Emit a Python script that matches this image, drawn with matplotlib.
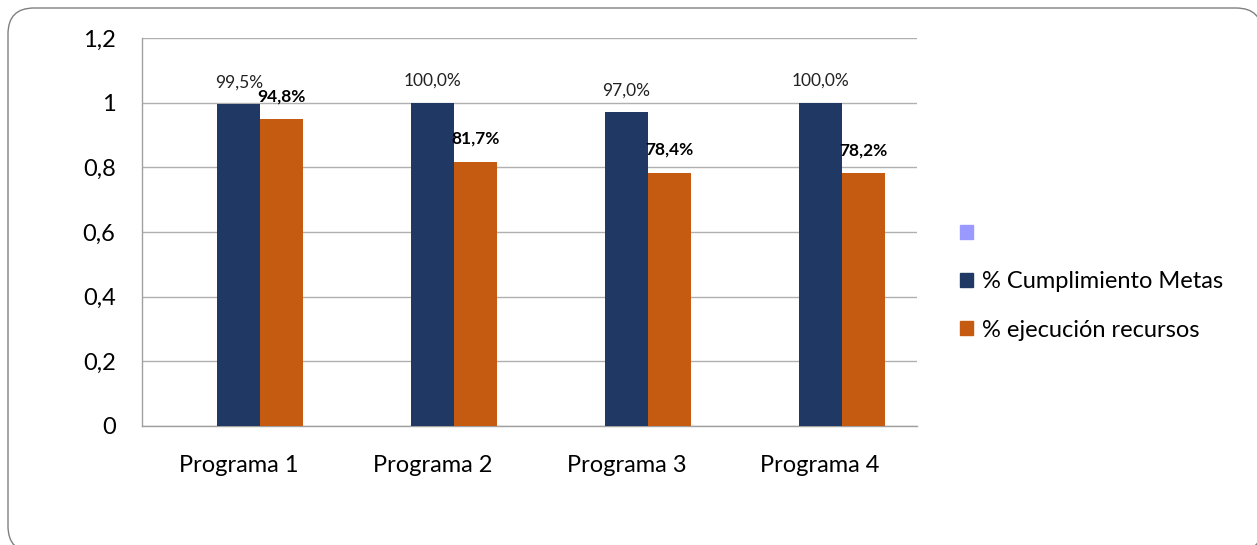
import numpy as np
import matplotlib
matplotlib.use("Agg")
import matplotlib.pyplot as plt
from matplotlib.patches import FancyBboxPatch, Patch

programas = ["Programa 1", "Programa 2", "Programa 3", "Programa 4"]
cumplimiento = [0.995, 1.0, 0.97, 1.0]
ejecucion = [0.948, 0.817, 0.784, 0.782]
cumpl_labels = ["99,5%", "100,0%", "97,0%", "100,0%"]
ejec_labels = ["94,8%", "81,7%", "78,4%", "78,2%"]
yticks = [0, 0.2, 0.4, 0.6, 0.8, 1.0, 1.2]
ytick_labels = ["0", "0,2", "0,4", "0,6", "0,8", "1", "1,2"]

plt.rcParams['font.family'] = ['Lato', 'DejaVu Sans']

W, H = 1257, 545
fig = plt.figure(figsize=(W / 100, H / 100), dpi=100)

# background axes in pixel units for the rounded frame
bg = fig.add_axes([0, 0, 1, 1])
bg.set_xlim(0, W)
bg.set_ylim(H, 0)
bg.axis("off")
frame = FancyBboxPatch((8, 8), 1262 - 8, 552 - 8,
                       boxstyle="round,pad=0,rounding_size=26",
                       facecolor="white", edgecolor="#808080", linewidth=1.0,
                       clip_on=False)
bg.add_patch(frame)

ax = fig.add_axes([142 / W, 1 - 426 / H, 775 / W, 388 / H])
ax.set_facecolor("none")

x = np.arange(len(programas))
w = 0.222
navy = "#203864"
orange = "#C55A11"
ax.bar(x, cumplimiento, w, color=navy, zorder=3)
ax.bar(x + w, ejecucion, w, color=orange, zorder=3)

for i in range(len(programas)):
    ax.annotate(cumpl_labels[i], (x[i], cumplimiento[i]), xytext=(0, 22),
                textcoords="offset pixels", ha="center", va="center",
                fontsize=12.5, color="#222222")
    ax.annotate(ejec_labels[i], (x[i] + w, ejecucion[i]), xytext=(0, 23),
                textcoords="offset pixels", ha="center", va="center",
                fontsize=12.5, fontweight="bold", color="black")

ax.set_xlim(-0.5, 3.5)
ax.set_ylim(0, 1.2)
ax.set_yticks(yticks)
ax.set_yticklabels(ytick_labels, fontsize=17)
ax.set_xticks(x)
ax.set_xticklabels(programas, fontsize=17)
ax.tick_params(axis="both", length=0)
ax.tick_params(axis="y", pad=19)
ax.tick_params(axis="x", pad=21)
ax.yaxis.grid(True, color="#b0b0b0", linewidth=1.0, zorder=0)
for s in ["top", "right"]:
    ax.spines[s].set_visible(False)
for s in ["left", "bottom"]:
    ax.spines[s].set_color("#a0a0a0")
    ax.spines[s].set_linewidth(1.0)

handles = [Patch(color="#9999FF", label=" "),
           Patch(color=navy, label="% Cumplimiento Metas"),
           Patch(color=orange, label="% ejecución recursos")]
fig.legend(handles=handles, loc="upper left", bbox_to_anchor=(939 / W, 1 - 202 / H),
           frameon=False, fontsize=17, handlelength=0.55, handleheight=0.55,
           handletextpad=0.35, labelspacing=1.15)

fig.savefig("out.png", dpi=100)
